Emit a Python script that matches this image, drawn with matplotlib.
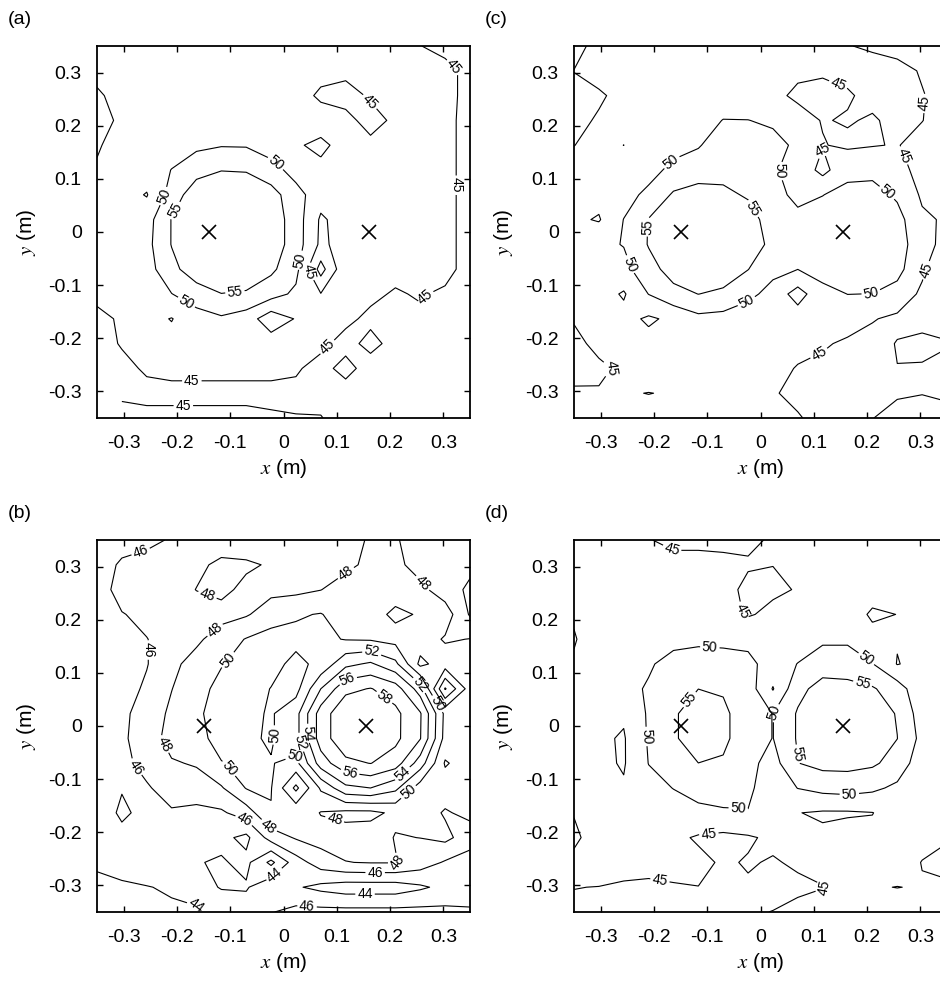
import numpy as np
import matplotlib
matplotlib.use('Agg')
import matplotlib.pyplot as plt

plt.rcParams['font.family'] = ['Liberation Sans', 'DejaVu Sans']
plt.rcParams['mathtext.fontset'] = 'stix'

# measuring grid: 16 x 16 points from -0.35 m to 0.35 m
grid = np.linspace(-0.35, 0.35, 16)
ticks = [-0.3, -0.2, -0.1, 0.0, 0.1, 0.2, 0.3]
tick_labels = ['-0.3', '-0.2', '-0.1', '0', '0.1', '0.2', '0.3']

nan = np.nan

# sound pressure level (dB), rows from y = +0.35 (top) to y = -0.35 (bottom)
spl_a = np.array([
    [46.5, 46.5, 46.5, 46.5, 46.5, 46.5, 46.5, 46.5, 46.5, 46.5, 46.5, 46.0, 45.5, 45.1, 43.5, 42.5],
    [46.0, 47.0, 47.0, 47.0, 47.0, 47.0, 47.0, 47.0, 47.0, 46.5, 46.0, 46.0, 46.5, 46.5, 46.5, 43.5],
    [44.5, 46.2, 47.0, 47.0, 47.0, 47.0, 47.0, 47.0, 47.0, 44.2, 43.5, 45.5, 46.5, 47.0, 47.0, 43.0],
    [44.0, 45.5, 47.0, 47.5, 47.5, 48.0, 48.0, 47.5, 47.5, 47.2, 46.2, 43.5, 45.8, 47.0, 47.0, 42.5],
    [44.5, 47.0, 47.5, 48.0, 49.0, 49.7, 49.6, 47.5, 45.5, 44.0, 46.7, 46.0, 46.5, 47.0, 47.0, 42.5],
    [45.5, 47.0, 47.5, 50.1, 53.0, 54.8, 54.6, 52.0, 48.0, 46.1, 46.5, 46.5, 46.5, 47.0, 47.0, 42.5],
    [46.0, 47.0, 44.7, 52.0, 58.3, 60.0, 59.0, 57.0, 51.9, 47.0, 46.5, 46.5, 46.5, 47.0, 47.0, 42.5],
    [46.5, 47.0, 48.0, 55.2, 62.0, 63.0, 61.0, 58.0, 52.5, 44.3, 47.0, 46.5, 46.5, 47.0, 47.0, 42.5],
    [46.5, 47.0, 48.5, 55.2, 62.0, 63.0, 61.0, 58.0, 52.5, 44.0, 47.0, 46.5, 46.5, 47.0, 47.0, 42.5],
    [46.5, 47.0, 48.0, 53.5, 58.0, 59.0, 58.0, 56.0, 51.5, 38.0, 49.0, 46.5, 46.5, 47.0, 47.0, 42.5],
    [46.0, 46.5, 47.5, 49.9, 52.5, 54.9, 54.5, 52.0, 49.0, 45.2, 47.0, 46.0, 44.5, 45.5, 44.0, 42.5],
    [44.0, 45.5, 46.5, 44.8, 48.0, 49.3, 47.5, 42.0, 45.3, 47.0, 46.0, 44.0, 43.5, 44.0, 43.0, 42.5],
    [43.5, 45.3, 46.0, 46.5, 47.0, 47.0, 47.0, 47.5, 46.5, 46.0, 43.5, 46.3, 43.5, 43.0, 43.0, 42.5],
    [43.0, 44.0, 45.5, 46.0, 46.0, 46.0, 46.0, 46.0, 45.5, 43.5, 46.5, 43.0, 43.0, 43.0, 43.0, 42.5],
    [nan, 44.0, 44.0, 44.0, 44.0, 44.0, 44.0, 44.0, 44.0, 43.5, 43.0, 43.0, 43.0, 43.0, 43.0, 42.5],
    [nan, 47.0, 46.0, 46.0, 46.0, 46.0, 46.0, 45.5, 45.2, 45.2, 43.0, 43.0, 43.0, 43.0, 43.0, 42.5],
])

spl_b = np.array([
    [45.0, 45.2, 45.6, 46.15, 46.5, 46.8, 46.8, 46.8, 47.0, 47.0, 47.0, 48.3, 48.2, 47.0, 46.8, 46.5],
    [45.0, 46.3, 46.6, 46.8, 47.5, 48.5, 48.3, 47.8, 47.5, 47.5, 47.5, 48.5, 48.5, 47.2, 46.8, 46.5],
    [45.0, 46.8, 46.8, 47.0, 48.05, 48.5, 47.5, 47.5, 47.5, 47.95, 49.0, 49.0, 49.5, 48.5, 47.0, 45.6],
    [45.0, 45.9, 46.5, 46.8, 47.0, 47.3, 47.8, 49.0, 49.8, 50.1, 49.0, 49.3, 47.3, 48.3, 49.0, 45.8],
    [45.0, 45.5, 45.95, 46.8, 47.6, 49.0, 50.1, 50.8, 50.5, 50.4, 49.9, 49.8, 49.3, 49.0, 47.8, 48.05],
    [45.0, 45.5, 45.9, 47.5, 48.8, 49.9, 50.6, 50.6, 49.5, 50.5, 53.5, 54.3, 52.5, 47.5, 49.0, 48.5],
    [45.0, 45.2, 46.3, 47.95, 49.4, 50.5, 50.8, 49.95, 49.3, 54.0, 57.5, 58.1, 57.0, 53.0, 43.8, 49.0],
    [45.0, 45.6, 46.8, 48.4, 49.6, 51.0, 50.5, 49.8, 51.3, 57.0, 59.5, 60.5, 58.5, 56.2, 49.5, 49.0],
    [45.0, 45.7, 46.9, 48.8, 49.3, 50.8, 50.3, 49.8, 51.3, 57.0, 59.5, 60.5, 58.5, 56.1, 49.3, 49.0],
    [45.0, 45.5, 46.6, 47.8, 48.2, 49.9, 50.6, 50.1, 49.4, 55.0, 57.5, 58.05, 57.0, 53.0, 47.8, 49.0],
    [45.0, 45.9, 45.8, 46.8, 47.0, 47.8, 50.1, 50.1, 45.5, 50.3, 53.5, 54.0, 52.5, 49.0, 49.0, 49.0],
    [45.0, 46.3, 45.5, 45.8, 45.5, 45.7, 47.0, 49.9, 49.5, 47.9, 47.5, 47.5, 48.4, 49.0, 47.8, 48.5],
    [44.6, 45.5, 45.0, 45.0, 45.0, 44.5, 43.5, 46.9, 48.2, 48.8, 48.8, 49.0, 47.9, 48.02, 48.5, 47.0],
    [44.3, 44.8, 44.8, 44.6, 44.1, 43.8, 44.5, 41.5, 45.1, 47.0, 47.95, 48.1, 48.1, 47.0, 45.8, 45.0],
    [43.5, 43.7, 43.95, 44.15, 44.3, 43.95, 43.8, 45.5, 44.2, 43.5, 43.0, 43.0, 43.0, 43.7, 44.5, 44.8],
    [43.0, 43.2, 43.5, 43.8, 43.9, 44.5, 45.0, 45.9, 46.6, 46.6, 46.6, 46.6, 46.6, 46.6, 46.5, 46.3],
])

spl_c = np.array([
    [44.0, 46.0, 46.5, 46.5, 46.5, 46.5, 46.5, 46.5, 46.5, 46.5, 46.0, 45.2, 44.3, 43.0, 42.5, 42.0],
    [45.05, 46.4, 46.8, 47.0, 47.0, 47.0, 47.0, 47.0, 46.8, 45.7, 45.5, 46.0, 47.0, 46.8, 44.5, 43.0],
    [44.3, 44.5, 46.1, 47.0, 47.0, 47.5, 48.0, 48.0, 45.9, 44.3, 43.8, 44.6, 46.0, 46.5, 45.3, 43.0],
    [44.0, 45.4, 46.5, 47.0, 47.5, 48.5, 50.1, 50.05, 49.5, 46.5, 44.8, 45.3, 44.6, 46.0, 45.1, 43.0],
    [44.95, 46.0, 44.98, 47.5, 48.0, 49.7, 52.0, 52.5, 51.0, 49.4, 45.2, 44.3, 44.8, 45.2, 43.5, 42.5],
    [46.0, 46.5, 47.0, 48.0, 51.5, 52.0, 53.5, 53.0, 50.5, 48.4, 43.5, 48.5, 48.5, 47.0, 43.0, 42.0],
    [46.0, 46.5, 48.0, 51.3, 55.6, 57.5, 56.0, 54.5, 52.0, 48.5, 49.9, 51.5, 52.0, 49.2, 44.3, 42.0],
    [45.85, 44.6, 50.1, 55.2, 60.0, 62.0, 60.0, 57.0, 52.7, 51.5, 52.0, 54.0, 54.0, 51.8, 45.8, 44.4],
    [46.0, 48.9, 50.2, 55.3, 61.0, 62.0, 60.0, 57.0, 54.0, 52.0, 53.0, 54.5, 54.5, 52.0, 47.3, 43.0],
    [46.0, 47.5, 48.5, 53.2, 57.0, 59.0, 58.0, 55.1, 51.5, 50.05, 52.0, 53.5, 53.0, 51.5, 46.0, 40.0],
    [46.0, 47.0, 44.5, 50.1, 53.5, 55.05, 54.0, 51.5, 48.0, 43.0, 48.4, 50.05, 49.95, 48.3, 44.0, 42.0],
    [45.3, 46.5, 46.5, 44.3, 46.0, 48.7, 48.3, 46.5, 47.0, 47.5, 47.5, 47.0, 45.3, 44.0, 43.0, 42.0],
    [44.0, 46.0, 46.5, 46.5, 46.5, 46.5, 46.5, 46.5, 46.5, 46.0, 45.5, 44.3, 43.5, 45.2, 46.5, 45.5],
    [43.5, 44.3, 45.7, 46.5, 46.5, 46.5, 46.5, 46.5, 46.0, 44.8, 44.0, 43.5, 43.5, 44.95, 44.5, 43.0],
    [45.6, 45.3, 45.2, 44.95, 45.2, 46.0, 46.0, 46.0, 45.5, 43.5, 43.0, 43.0, 43.5, 44.5, 44.8, 44.0],
    [46.0, 46.0, 46.5, 46.0, 46.0, 46.0, 46.0, 46.0, 46.0, 45.5, 43.0, 43.0, 44.9, 46.5, 48.0, 47.0],
])

spl_d = np.array([
    [46.5, 46.5, 46.0, 45.1, 44.5, 44.5, 44.5, 44.5, 45.3, 46.5, 46.5, 46.5, 46.5, 46.5, 46.5, 46.5],
    [46.5, 47.0, 47.0, 46.5, 45.7, 45.7, 45.5, 45.27, 45.05, 46.5, 47.0, 47.0, 47.0, 47.0, 46.5, 46.5],
    [46.5, 47.0, 47.0, 47.0, 47.0, 46.5, 46.0, 44.3, 44.3, 45.23, 47.0, 47.0, 47.0, 47.0, 46.5, 46.0],
    [45.3, 46.5, 47.0, 47.5, 47.5, 47.0, 46.5, 44.6, 46.0, 47.0, 47.5, 47.5, 44.3, 45.05, 46.5, 44.8],
    [44.8, 46.5, 47.0, 48.0, 48.5, 49.0, 49.0, 48.8, 47.5, 48.0, 49.2, 49.2, 46.5, 45.3, 45.2, 46.0],
    [45.3, 46.5, 47.5, 49.4, 51.8, 52.3, 51.8, 51.2, 48.0, 50.1, 52.5, 52.5, 50.2, 44.8, 46.5, 46.0],
    [46.0, 47.0, 48.5, 50.5, 53.0, 54.98, 54.5, 52.5, 44.7, 53.5, 57.0, 56.5, 55.5, 52.5, 46.0, 46.0],
    [46.0, 47.0, 45.6, 50.6, 54.5, 57.0, 56.0, 52.3, 49.9, 55.5, 58.0, 58.5, 57.5, 54.7, 47.4, 46.0],
    [46.0, 45.7, 44.6, 50.5, 54.5, 57.0, 56.0, 52.3, 49.9, 55.5, 58.0, 58.5, 57.5, 55.05, 48.5, 46.0],
    [46.0, 46.0, 44.6, 50.1, 53.0, 54.98, 54.5, 51.5, 48.0, 54.9, 56.5, 56.5, 55.8, 53.0, 47.0, 46.0],
    [46.0, 46.5, 45.45, 48.5, 50.1, 51.5, 51.5, 51.0, 47.0, 50.1, 51.5, 52.0, 51.0, 49.0, 46.5, 46.0],
    [45.1, 46.5, 46.5, 47.5, 48.0, 49.0, 49.6, 49.8, 47.0, 45.1, 44.5, 44.5, 44.9, 47.0, 46.5, 46.0],
    [44.6, 46.0, 46.5, 46.5, 46.0, 44.5, 43.8, 44.5, 45.8, 46.5, 45.75, 47.0, 46.0, 47.0, 46.0, 45.3],
    [45.5, 46.5, 46.5, 46.3, 46.3, 46.0, 44.5, 45.3, 44.7, 45.5, 46.0, 46.0, 46.0, 46.5, 44.9, 44.0],
    [45.05, 44.95, 44.5, 44.3, 44.7, 44.95, 43.5, 44.6, 43.5, 44.3, 44.9, 46.0, 45.2, 44.95, 45.2, 45.5],
    [44.5, 44.5, 44.3, 44.3, 44.3, 44.3, 44.0, 44.5, 45.1, 46.0, 46.5, 46.5, 46.5, 46.5, 46.0, 46.0],
])

levels_a = [40, 45, 50, 55]
levels_b = [42, 44, 46, 48, 50, 52, 54, 56, 58]
levels_c = [45, 50, 55]
levels_d = [45, 50, 55]

# loudspeaker positions (m)
src_a = ([-0.14, 0.16], [0.0, 0.0])
src_b = ([-0.15, 0.155], [0.0, 0.0])
src_c = ([-0.15, 0.155], [0.0, 0.0])
src_d = ([-0.15, 0.155], [0.0, 0.0])

# where the level labels sit on the contours
lab_a = [(0.316, 0.307), (0.156, 0.239), (-0.0125, 0.132), (-0.228, 0.069),
         (-0.21, 0.044), (0.319, 0.088), (0.031, -0.053), (0.047, -0.075),
         (-0.091, -0.114), (-0.185, -0.137), (0.269, -0.125), (0.078, -0.212),
         (-0.172, -0.287), (-0.188, -0.334)]
lab_b = [(-0.269, 0.331), (-0.144, 0.243), (0.113, 0.294), (0.26, 0.268),
         (-0.128, 0.18), (-0.257, 0.143), (-0.1, 0.121), (0.166, 0.14),
         (0.119, 0.093), (0.26, 0.08), (0.188, 0.052), (0.291, 0.043),
         (-0.019, -0.017), (0.038, -0.014), (0.025, -0.033), (0.019, -0.051),
         (-0.222, -0.033), (-0.275, -0.076), (-0.106, -0.083), (0.123, -0.098),
         (0.223, -0.089), (0.236, -0.126), (0.094, -0.183), (-0.078, -0.189),
         (-0.034, -0.195), (-0.022, -0.274), (0.228, -0.258), (0.172, -0.28),
         (0.153, -0.314), (-0.163, -0.336), (0.044, -0.343)]
lab_c = [(0.1425, 0.27), (0.308, 0.242), (0.111, 0.157), (0.264, 0.142),
         (-0.17, 0.135), (0.03, 0.113), (-0.014, 0.044), (0.239, 0.076),
         (-0.223, 0.01), (-0.248, -0.062), (0.308, -0.071), (-0.026, -0.131),
         (0.208, -0.121), (0.108, -0.225), (-0.276, -0.259)]
lab_d = [(-0.167, 0.331), (-0.07, 0.209), (-0.095, 0.149), (0.199, 0.127),
         (0.1925, 0.083), (-0.136, 0.052), (0.027, 0.024), (-0.223, -0.02),
         (0.061, -0.054), (0.1675, -0.136), (-0.042, -0.161), (-0.098, -0.192),
         (-0.189, -0.292), (0.121, -0.305)]


def draw_panel(ax, spl, levels, src, labels):
    z = np.flipud(spl)
    cs = ax.contour(grid, grid, z, levels=levels, colors='k', linewidths=0.8)
    ax.clabel(cs, manual=labels, inline=True, fontsize=10, fmt='%d',
              inline_spacing=2)
    ax.plot(src[0], src[1], 'x', color='k', ms=10, mew=1.2)
    ax.set_xlim(-0.35, 0.35)
    ax.set_ylim(-0.35, 0.35)
    ax.set_xticks(ticks)
    ax.set_xticklabels(tick_labels)
    ax.set_yticks(ticks)
    ax.set_yticklabels(tick_labels)
    ax.tick_params(direction='in', top=True, right=True, length=4, width=1,
                   labelsize=14)
    ax.tick_params(axis='x', pad=12)
    ax.tick_params(axis='y', pad=11)
    for s in ax.spines.values():
        s.set_linewidth(1.3)
    ax.set_xlabel(r'$x$ (m)', fontsize=15, labelpad=4)
    ax.set_ylabel(r'$y$ (m)', fontsize=15, labelpad=7)


fig = plt.figure(figsize=(9.4, 9.82), dpi=100)
w, h = 373 / 940, 372 / 982
ax_a = fig.add_axes([97 / 940, 1 - 418 / 982, w, h])
ax_c = fig.add_axes([574 / 940, 1 - 418 / 982, w, h])
ax_b = fig.add_axes([97 / 940, 1 - 912 / 982, w, h])
ax_d = fig.add_axes([574 / 940, 1 - 912 / 982, w, h])

draw_panel(ax_a, spl_a, levels_a, src_a, lab_a)
draw_panel(ax_b, spl_b, levels_b, src_b, lab_b)
draw_panel(ax_c, spl_c, levels_c, src_c, lab_c)
draw_panel(ax_d, spl_d, levels_d, src_d, lab_d)

fig.text(8 / 940, 1 - 20 / 982, '(a)', fontsize=14, va='center')
fig.text(485 / 940, 1 - 20 / 982, '(c)', fontsize=14, va='center')
fig.text(8 / 940, 1 - 514 / 982, '(b)', fontsize=14, va='center')
fig.text(485 / 940, 1 - 514 / 982, '(d)', fontsize=14, va='center')

fig.savefig('out.png', dpi=100)
